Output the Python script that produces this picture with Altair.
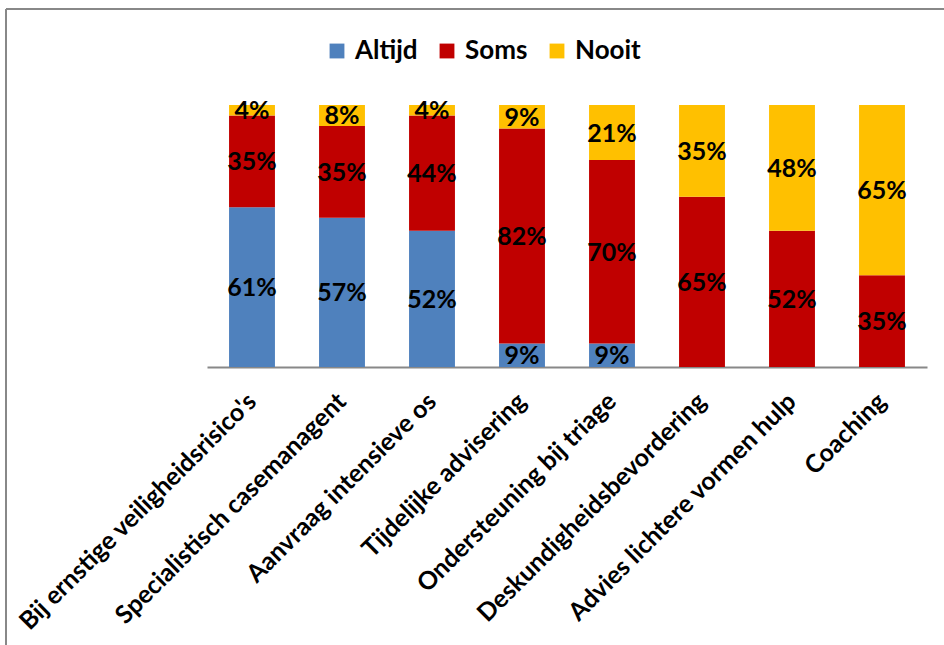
import altair as alt
import pandas as pd

categories = [
    "Bij ernstige veiligheidsrisico's",
    "Specialistisch casemanagent",
    "Aanvraag intensieve os",
    "Tijdelijke advisering",
    "Ondersteuning bij triage",
    "Deskundigheidsbevordering",
    "Advies lichtere vormen hulp",
    "Coaching",
]
series = ["Altijd", "Soms", "Nooit"]
altijd = [61, 57, 52, 9, 9, 0, 0, 0]
soms = [35, 35, 44, 82, 70, 65, 52, 35]
nooit = [4, 8, 4, 9, 21, 35, 48, 65]
colors = ["#4F81BD", "#C00000", "#FFC000"]

rows = []
for i, c in enumerate(categories):
    for k, (s, vals) in enumerate(zip(series, [altijd, soms, nooit])):
        rows.append({"cat": c, "series": s, "value": vals[i], "order": k})
df = pd.DataFrame(rows)

FONT = "Lato"

base = alt.Chart(df).transform_stack(
    stack="value", groupby=["cat"], sort=[alt.SortField("order")], as_=["y0", "y1"]
).transform_calculate(
    mid="(datum.y0 + datum.y1) / 2",
    label="datum.value + '%'",
)

xenc = alt.X(
    "cat:N",
    sort=categories,
    scale=alt.Scale(paddingInner=0.49, paddingOuter=0.245),
    axis=alt.Axis(
        title=None,
        labelAngle=-45,
        labelAlign="right",
        labelBaseline="middle",
        labelFont=FONT,
        labelFontWeight="bold",
        labelFontSize=25,
        labelColor="black",
        labelPadding=30,
        labelLimit=500,
        ticks=False,
        domainColor="#888888",
        domainWidth=2,
    ),
)
yscale = alt.Scale(domain=[0, 100])

bars = base.mark_bar().encode(
    x=xenc,
    y=alt.Y("y0:Q", scale=yscale, axis=None),
    y2="y1:Q",
    color=alt.Color(
        "series:N",
        sort=series,
        scale=alt.Scale(domain=series, range=colors),
        legend=alt.Legend(
            title=None,
            orient="none",
            direction="horizontal",
            legendX=117,
            legendY=-67,
            symbolType="square",
            symbolSize=220,
            symbolStrokeWidth=0,
            labelFont=FONT,
            labelFontWeight="bold",
            labelFontSize=26,
            labelColor="black",
            columnPadding=16,
            labelOffset=5,
        ),
    ),
)

texts = base.transform_filter("datum.value > 0").mark_text(
    font=FONT, fontWeight="bold", fontSize=25, color="black", baseline="middle", dy=1
).encode(
    x=alt.X("cat:N", sort=categories),
    y=alt.Y("mid:Q", scale=yscale, axis=None),
    text="label:N",
)

frame_left = alt.Chart(df).mark_rule(color="#888888", strokeWidth=2).encode(
    x=alt.value(-201), y=alt.value(-96), y2=alt.value(560)
)
frame_top = alt.Chart(df).mark_rule(color="#888888", strokeWidth=2).encode(
    x=alt.value(-201), x2=alt.value(760), y=alt.value(-96)
)

chart = alt.layer(bars, texts, frame_left, frame_top).properties(
    width=720,
    height=262,
    background="white",
    padding={"left": 207, "top": 105, "right": 17, "bottom": 278},
    autosize=alt.AutoSizeParams(type="none"),
).configure_view(strokeWidth=0, stroke=None)

chart.save("out.html", embed_options={"renderer": "svg", "actions": False})
